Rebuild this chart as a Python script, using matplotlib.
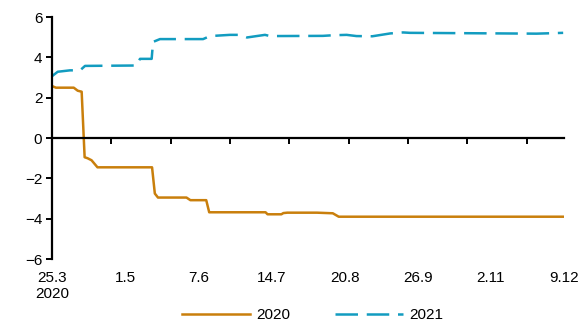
import numpy as np
import matplotlib
matplotlib.use("Agg")
import matplotlib.pyplot as plt
from matplotlib.transforms import blended_transform_factory

plt.rcParams["font.family"] = ["Liberation Sans", "DejaVu Sans"]
plt.rcParams["font.size"] = 11

# days counted from 25.3.2020
days_2020 = [0, 2, 11, 13, 15, 16.5, 18, 20, 23, 50.6, 52, 53.6, 68, 70, 78, 79.5,
             108, 109, 116, 117, 119, 134, 142, 145, 259]
vals_2020 = [2.58, 2.5, 2.5, 2.35, 2.3, -0.95, -1.0, -1.1, -1.45, -1.45, -2.75, -2.95,
             -2.95, -3.08, -3.08, -3.68, -3.68, -3.78, -3.78, -3.72, -3.7, -3.7, -3.73,
             -3.9, -3.9]

days_2021 = [0, 2.9, 9.1, 14.2, 16.7, 42.8, 44.5, 50.4, 51.1, 54.6, 76.4, 79.9, 90, 95,
             98.6, 107.7, 110.3, 137, 142, 149, 154, 162, 171, 177.5, 181, 245, 252, 258.5]
vals_2021 = [3.07, 3.29, 3.36, 3.36, 3.58, 3.6, 3.93, 3.93, 4.77, 4.91, 4.91, 5.06, 5.12,
             5.12, 4.99, 5.12, 5.06, 5.07, 5.1, 5.12, 5.06, 5.05, 5.19, 5.24, 5.22, 5.18,
             5.2, 5.22]

label_days = [0, 37, 74, 111, 148, 185, 222, 259]
label_text = ["25.3\n2020", "1.5", "7.6", "14.7", "20.8", "26.9", "2.11", "9.12"]

orange = "#C97F0C"
blue = "#129CC0"

fig = plt.figure(figsize=(5.81, 3.23), dpi=100)
ax = fig.add_axes([0.0895, 0.198, 0.8815, 0.749])

ax.plot(days_2020, vals_2020, color=orange, lw=1.8, label="2020")
ax.plot(days_2021, vals_2021, color=blue, lw=1.8, dashes=(9, 3.5), label="2021")

ax.set_xlim(0, 259)
ax.set_ylim(-6, 6)
ax.set_yticks(np.arange(-6, 7, 2))

for s in ["top", "right"]:
    ax.spines[s].set_visible(False)
ax.spines["left"].set_linewidth(1.6)
ax.spines["bottom"].set_linewidth(1.6)
ax.spines["bottom"].set_position(("data", 0))

ax.set_xticks(np.arange(0, 241, 30))
ax.set_xticklabels([])
ax.tick_params(axis="x", direction="out", length=4, width=1.4)
ax.tick_params(axis="y", direction="out", length=4, width=1.4, pad=3)

# date labels sit below the plot area, not on the zero line
trans = blended_transform_factory(ax.transData, ax.transAxes)
for d, t in zip(label_days, label_text):
    ax.text(d, -0.05, t, transform=trans, ha="center", va="top",
            linespacing=1.15, clip_on=False)

fig.legend(loc="center", bbox_to_anchor=(0.538, 0.025), ncol=2, frameon=False,
           handlelength=4.5, handletextpad=0.4, columnspacing=2.9)

fig.savefig("out.png", dpi=100)
